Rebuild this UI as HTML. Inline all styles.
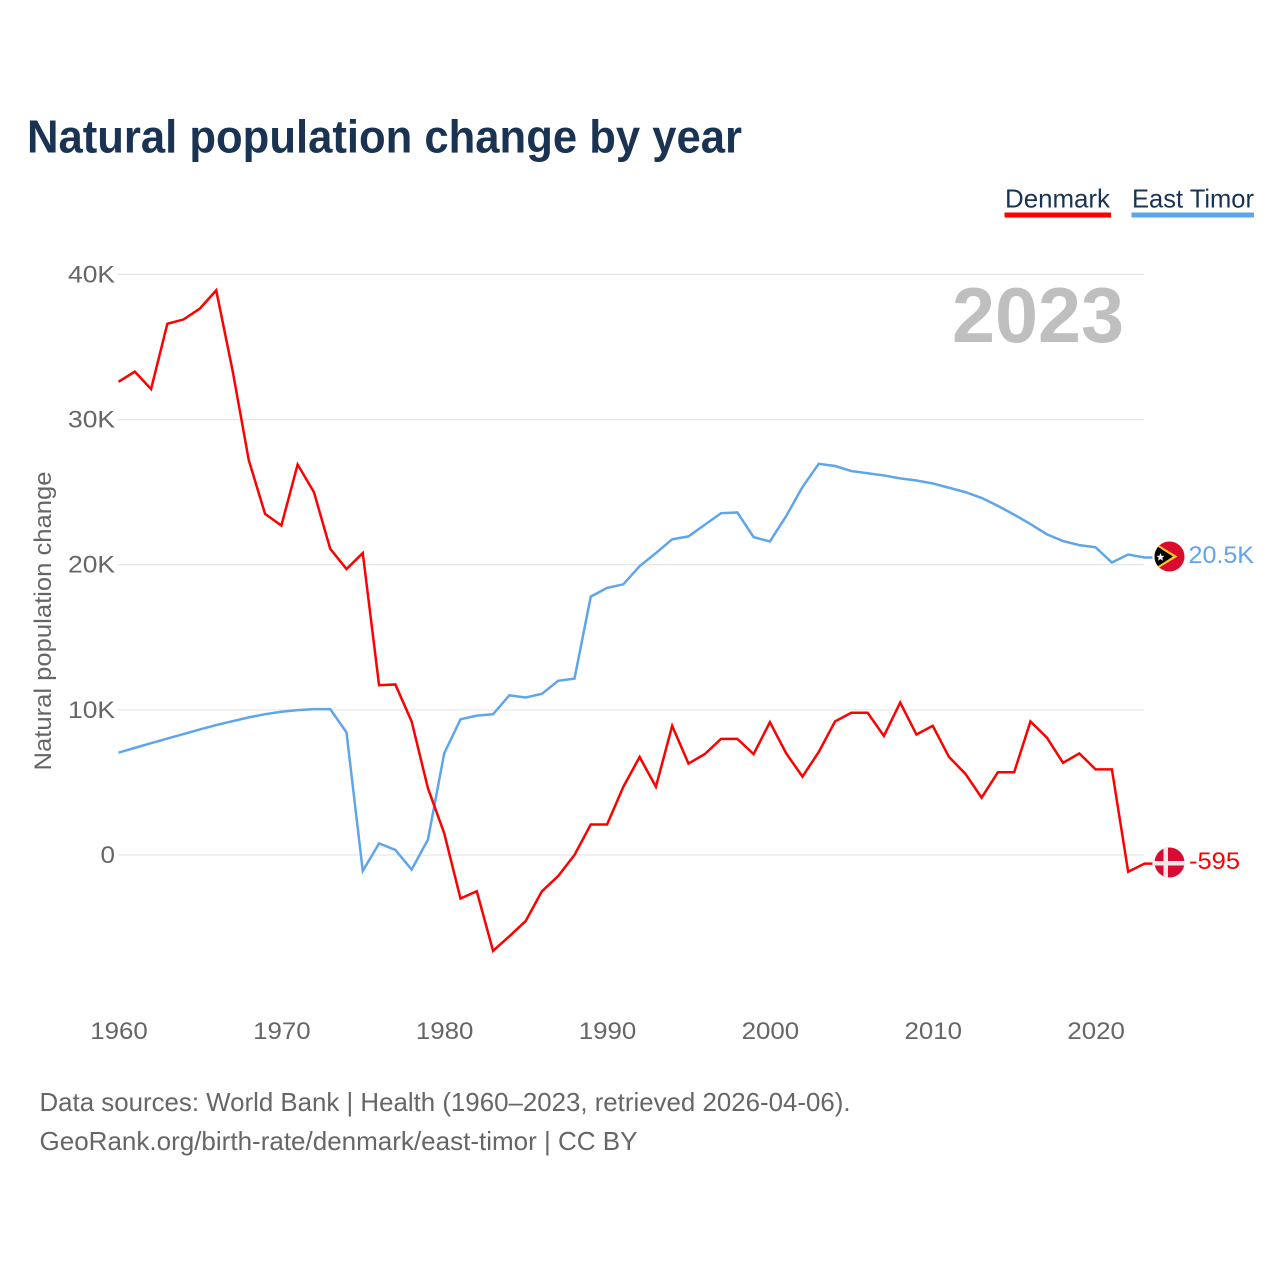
<!DOCTYPE html>
<html lang="en">
<head>
<meta charset="utf-8">
<title>Natural population change by year</title>
<style>
html,body{margin:0;padding:0;background:#fff;width:1280px;height:1280px;overflow:hidden}
svg{display:block;font-family:"Liberation Sans",sans-serif}
</style>
</head>
<body>
<svg id="chart" xmlns="http://www.w3.org/2000/svg" width="1280" height="1280" viewBox="0 0 1280 1280">
  <rect width="1280" height="1280" fill="#fff"/>
  <text x="27" y="152.5" font-size="46" font-weight="700" fill="#1a3353" textLength="715" lengthAdjust="spacingAndGlyphs">Natural population change by year</text>

  <g>
    <text x="1005" y="207.5" font-size="26" fill="#1a3353" textLength="105" lengthAdjust="spacingAndGlyphs">Denmark</text>
    <rect x="1004.5" y="212.5" width="106.5" height="5" fill="#ff0000"/>
  </g>
  <g>
    <text x="1132" y="207.5" font-size="26" fill="#1a3353" textLength="122" lengthAdjust="spacingAndGlyphs">East Timor</text>
    <rect x="1131.5" y="212.5" width="122.5" height="5" fill="#5fa5ea"/>
  </g>

  <g id="grid"></g>
  <g id="yticks"></g>
  <g id="xticks"></g>

  <text x="952" y="342" font-size="78" font-weight="700" fill="#bfbfbf" textLength="172" lengthAdjust="spacingAndGlyphs">2023</text>

  <text transform="translate(51,770.5) rotate(-90)" font-size="24" fill="#666666" textLength="299" lengthAdjust="spacingAndGlyphs">Natural population change</text>

  <g id="series"></g>

  <defs>
    <clipPath id="clip-tl"><circle cx="1169.5" cy="556.5" r="15"/></clipPath>
    <clipPath id="clip-dk"><circle cx="1169.5" cy="862.5" r="15"/></clipPath>
  </defs>

  <g id="flag-tl" clip-path="url(#clip-tl)">
    <rect x="1154" y="541" width="31" height="31" fill="#dc0a2d"/>
    <polygon points="1152,541 1177.5,556.5 1152,572" fill="#ffc726"/>
    <polygon points="1152,543 1173,556.5 1152,570" fill="#000"/>
    <polygon points="1160.5,553 1161.6,555.7 1164.5,555.9 1162.3,557.8 1163,560.7 1160.5,559.1 1158,560.7 1158.7,557.8 1156.5,555.9 1159.4,555.7" fill="#f4f4f4"/>
  </g>
  <g id="flag-dk" clip-path="url(#clip-dk)">
    <rect x="1154" y="847" width="31" height="31" fill="#d80c33"/>
    <rect x="1163.5" y="847" width="4.5" height="31" fill="#f2e6e6"/>
    <rect x="1154" y="861" width="31" height="4.5" fill="#f2e6e6"/>
  </g>

  <text x="1188.5" y="563" font-size="24" fill="#5fa5ea" textLength="65.5" lengthAdjust="spacingAndGlyphs">20.5K</text>
  <text x="1189" y="869" font-size="24" fill="#ff0000" textLength="51" lengthAdjust="spacingAndGlyphs">-595</text>

  <text x="39.5" y="1111" font-size="26" fill="#666666" textLength="811" lengthAdjust="spacingAndGlyphs">Data sources: World Bank | Health (1960–2023, retrieved 2026-04-06).</text>
  <text x="39.5" y="1150" font-size="26" fill="#666666" textLength="598" lengthAdjust="spacingAndGlyphs">GeoRank.org/birth-rate/denmark/east-timor | CC BY</text>
</svg>
<script>
// Chart data (values in thousands)
var startYear = 1960;
var denmarkValues = [32.6,33.3,32.1,36.6,36.9,37.65,38.9,33.4,27.2,23.5,22.7,26.9,25.0,21.1,19.7,20.8,11.7,11.75,9.2,4.6,1.5,-3.0,-2.5,-6.6,-5.6,-4.55,-2.5,-1.45,0,2.1,2.1,4.7,6.75,4.7,8.9,6.3,6.95,8.0,8.0,6.95,9.15,7.0,5.4,7.1,9.2,9.8,9.8,8.2,10.5,8.3,8.9,6.75,5.6,3.95,5.7,5.7,9.2,8.1,6.35,7.0,5.9,5.9,-1.15,-0.595];
var eastTimorValues = [7.05,7.38,7.7,8.02,8.33,8.65,8.95,9.22,9.48,9.7,9.87,9.98,10.05,10.05,8.45,-1.1,0.8,0.35,-1.0,1.05,7.0,9.35,9.6,9.7,11.0,10.85,11.1,12.0,12.15,17.8,18.4,18.65,19.9,20.8,21.75,21.95,22.75,23.55,23.6,21.9,21.6,23.35,25.35,26.95,26.8,26.45,26.3,26.15,25.95,25.8,25.6,25.3,25.0,24.6,24.05,23.45,22.8,22.1,21.63,21.35,21.2,20.15,20.7,20.5];
var yTickValues = [40,30,20,10,0];
var yTickLabels = ["40K","30K","20K","10K","0"];
var xTickYears = [1960,1970,1980,1990,2000,2010,2020];

var NS = "http://www.w3.org/2000/svg";
function xScale(year){ return 118.5 + (year - 1960) * 16.285; }
function yScale(v){ return 855 - v * 14.515; }

var grid = document.getElementById("grid");
var yticks = document.getElementById("yticks");
var xticks = document.getElementById("xticks");
var series = document.getElementById("series");

yTickValues.forEach(function(v, i){
  var line = document.createElementNS(NS, "line");
  
  
  line.setAttribute("x1", 118);
  line.setAttribute("x2", 1144);
  line.setAttribute("y1", yScale(v));
  line.setAttribute("y2", yScale(v));
  line.setAttribute("stroke", "#e8e8e8");
  line.setAttribute("stroke-width", "1.3");
  grid.appendChild(line);

  var label = document.createElementNS(NS, "text");
  
  
  label.setAttribute("x", 115);
  label.setAttribute("y", yScale(v) + 8);
  label.setAttribute("text-anchor", "end");
  label.setAttribute("font-size", "24");
  label.setAttribute("fill", "#666666");
  label.setAttribute("textLength", yTickLabels[i].length === 1 ? 14.5 : 47);
  label.setAttribute("lengthAdjust", "spacingAndGlyphs");
  label.textContent = yTickLabels[i];
  yticks.appendChild(label);
});

xTickYears.forEach(function(yr){
  var label = document.createElementNS(NS, "text");
  
  
  label.setAttribute("x", xScale(yr) + 0.5);
  label.setAttribute("y", 1039);
  label.setAttribute("text-anchor", "middle");
  label.setAttribute("font-size", "24");
  label.setAttribute("fill", "#666666");
  label.setAttribute("textLength", 57.5);
  label.setAttribute("lengthAdjust", "spacingAndGlyphs");
  label.textContent = String(yr);
  xticks.appendChild(label);
});

function pointsFor(values){
  var pts = values.map(function(v, i){
    return xScale(startYear + i).toFixed(2) + "," + yScale(v).toFixed(2);
  });
  // short connector from the last point toward the flag
  var last = values[values.length - 1];
  pts.push((xScale(startYear + values.length - 1) + 8).toFixed(2) + "," + yScale(last).toFixed(2));
  return pts.join(" ");
}

var timorLine = document.createElementNS(NS, "polyline");


timorLine.setAttribute("points", pointsFor(eastTimorValues));
timorLine.setAttribute("fill", "none");
timorLine.setAttribute("stroke", "#5fa5ea");
timorLine.setAttribute("stroke-width", "2.5");
timorLine.setAttribute("stroke-linejoin", "miter");
series.appendChild(timorLine);

var denmarkLine = document.createElementNS(NS, "polyline");


denmarkLine.setAttribute("points", pointsFor(denmarkValues));
denmarkLine.setAttribute("fill", "none");
denmarkLine.setAttribute("stroke", "#ff0000");
denmarkLine.setAttribute("stroke-width", "2.5");
denmarkLine.setAttribute("stroke-linejoin", "miter");
series.appendChild(denmarkLine);
</script>
</body>
</html>
